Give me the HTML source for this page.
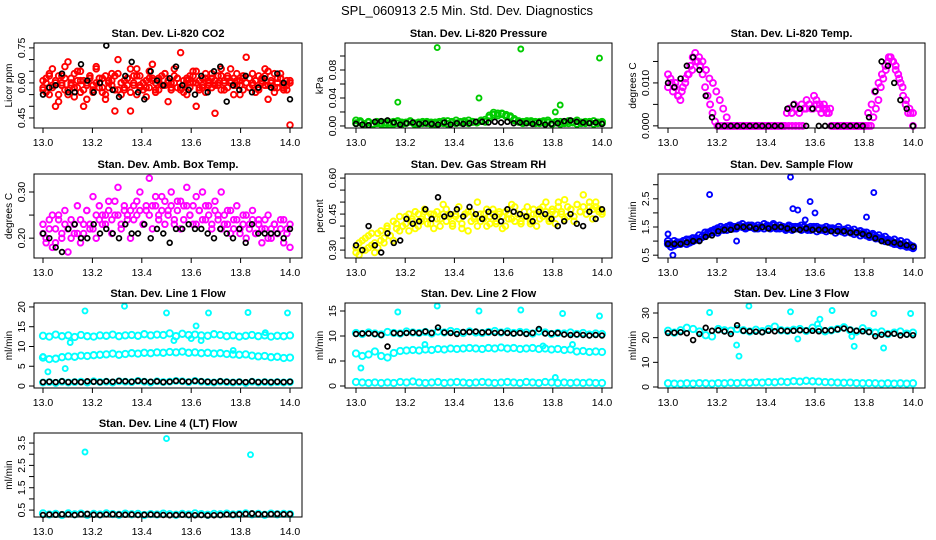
<!DOCTYPE html>
<html><head><meta charset="utf-8">
<style>
html,body{margin:0;padding:0;background:#fff;}
svg{display:block;font-family:"Liberation Sans",Arial,sans-serif;}
.ttl{font-weight:bold;font-size:11px;}
.tk{font-size:10.5px;}
.yl{font-size:10px;}
</style></head>
<body>
<svg id="chart" width="936" height="540" viewBox="0 0 936 540" xmlns="http://www.w3.org/2000/svg">
<text x="467" y="15" text-anchor="middle" font-size="13">SPL_060913  2.5 Min. Std. Dev. Diagnostics</text>
</svg>
<script>
// ---------- data ----------
const xTicks=[13.0,13.2,13.4,13.6,13.8,14.0];
const xTickLabels=["13.0","13.2","13.4","13.6","13.8","14.0"];

const co2Red=[0.58,0.62,0.55,0.66,0.60,0.52,0.63,0.57,0.69,0.59,0.54,0.61,0.65,0.50,0.60,0.63,0.56,0.67,0.58,0.62,0.53,0.60,0.64,0.57,0.70,0.55,0.61,0.59,0.48,0.63,0.66,0.58,0.60,0.54,0.62,0.68,0.57,0.61,0.59,0.64,0.52,0.60,0.63,0.58,0.73,0.56,0.62,0.60,0.65,0.50,0.61,0.58,0.64,0.59,0.62,0.47,0.60,0.66,0.57,0.63,0.61,0.55,0.64,0.59,0.62,0.71,0.58,0.60,0.56,0.63,0.61,0.66,0.53,0.60,0.64,0.58,0.62,0.57,0.59,0.42];
const co2Red2=[0.61,0.56,0.64,0.59,0.50,0.63,0.60,0.67,0.55,0.62,0.58,0.65,0.61,0.57,0.53,0.62,0.59,0.66,0.60,0.56,0.63,0.58,0.61,0.48,0.64,0.60,0.57,0.62,0.66,0.59,0.55,0.63,0.60,0.58,0.65,0.61,0.56,0.62,0.59,0.64,0.60,0.57,0.66,0.62,0.58,0.61,0.55,0.63,0.60,0.65,0.58,0.62,0.56,0.61,0.64,0.59,0.63,0.57,0.60,0.62,0.66,0.59,0.61,0.55,0.63,0.60,0.58,0.64,0.61,0.57,0.62,0.59,0.65,0.60,0.56,0.62,0.64,0.58,0.61,0.60];
const co2Red3=[0.57,0.60,0.63,0.58,0.61,0.55,0.59,0.62,0.57,0.60,0.64,0.58,0.56,0.61,0.59,0.63,0.57,0.60,0.62,0.58,0.55,0.61,0.59,0.63,0.57,0.60,0.58,0.62,0.56,0.60,0.63,0.59,0.57,0.61,0.58,0.62,0.60,0.57,0.63,0.59,0.61,0.58,0.60,0.62,0.57,0.59,0.61,0.58,0.63,0.60,0.57,0.59,0.62,0.60,0.58,0.61,0.59,0.63,0.61,0.58,0.60,0.62,0.59,0.61,0.57,0.60,0.62,0.59,0.61,0.58,0.60,0.63,0.59,0.61,0.58,0.60,0.62,0.59,0.57,0.61];
const co2Black=[0.55,0.58,0.59,0.64,0.56,0.56,0.68,0.61,0.56,0.60,0.76,0.57,0.54,0.63,0.69,0.56,0.53,0.65,0.61,0.59,0.62,0.67,0.59,0.57,0.55,0.63,0.56,0.65,0.67,0.52,0.59,0.57,0.63,0.56,0.58,0.62,0.58,0.64,0.60,0.53];

const presGreen=[0.008,0.005,0.003,0.006,0.002,0.004,0.003,0.005,0.002,0.006,0.004,0.003,0.005,0.007,0.004,0.003,0.006,0.004,0.005,0.003,0.006,0.004,0.007,0.005,0.004,0.006,0.005,0.008,0.006,0.005,0.007,0.009,0.012,0.016,0.018,0.017,0.016,0.014,0.010,0.007,0.006,0.005,0.007,0.004,0.006,0.005,0.008,0.004,0.006,0.003,0.005,0.004,0.006,0.003,0.005,0.004,0.006,0.003,0.005,0.004];
const presGreen2=[0.004,0.007,0.002,0.005,0.003,0.006,0.004,0.002,0.005,0.003,0.007,0.005,0.004,0.006,0.003,0.005,0.004,0.006,0.003,0.005,0.004,0.007,0.003,0.006,0.008,0.005,0.007,0.004,0.006,0.005,0.008,0.006,0.015,0.019,0.015,0.018,0.014,0.012,0.008,0.006,0.004,0.007,0.005,0.006,0.004,0.007,0.005,0.003,0.005,0.006,0.004,0.007,0.005,0.008,0.004,0.006,0.005,0.007,0.004,0.006];
const presOutX=[13.17,13.33,13.50,13.67,13.81,13.83,13.99];
const presOutY=[0.034,0.112,0.040,0.110,0.020,0.030,0.097];
const presBlack=[0.003,0.002,0.001,0.006,0.007,0.008,0.005,0.002,0.004,0.005,0.003,0.004,0.003,0.002,0.005,0.002,0.004,0.003,0.004,0.006,0.006,0.005,0.006,0.005,0.006,0.004,0.005,0.004,0.003,0.005,0.002,0.003,0.004,0.007,0.008,0.006,0.005,0.004,0.005,0.003];

const tempMag=[0.009,0.011,0.008,0.010,0.007,0.006,0.009,0.011,0.012,0.014,0.016,0.017,0.015,0.014,0.012,0.009,0.007,0.005,0.003,0.001,0,0,0,0,0,0,0,0,0,0,0,0,0,0,0,0,0,0,0,0,0,0,0,0,0,0,0,0,0.003,0.004,0.003,0.005,0.004,0.003,0.005,0.004,0.006,0.005,0.004,0.007,0.005,0.004,0.003,0.005,0.004,0.003,0,0,0,0,0,0,0,0,0,0,0,0,0,0,0,0,0,0.002,0.004,0.006,0.009,0.011,0.013,0.015,0.016,0.015,0.014,0.012,0.010,0.007,0.005,0.003,0.003,0];
const tempMag2=[0.012,0.010,0.009,0.007,0.008,0.010,0.012,0.013,0.015,0.016,0.015,0.013,0.011,0.010,0.008,0.006,0.004,0.002,0,0,0,0,0,0,0,0,0,0,0,0,0,0,0,0,0,0,0,0,0,0,0.004,0.005,0.004,0.006,0.005,0.004,0.003,0.004,0,0,0,0,0,0,0,0,0,0,0.003,0.005,0.008,0.010,0.012,0.014,0.016,0.015,0.013,0.011,0.009,0.006,0.004,0.003];
const tempBlack=[0.010,0.009,0.011,0.014,0.016,0.013,0.007,0.002,0,0,0,0,0,0,0,0,0,0,0,0.004,0.005,0.004,0,0.004,0,0,0,0,0,0,0,0,0.002,0.008,0.015,0.014,0.010,0.006,0.004,0];

const ambMag=[0.21,0.19,0.24,0.18,0.22,0.25,0.20,0.23,0.17,0.24,0.21,0.27,0.19,0.23,0.26,0.22,0.29,0.20,0.24,0.25,0.23,0.28,0.21,0.25,0.31,0.22,0.26,0.24,0.20,0.27,0.25,0.30,0.23,0.26,0.33,0.22,0.27,0.25,0.29,0.23,0.26,0.30,0.24,0.28,0.22,0.27,0.31,0.25,0.23,0.29,0.26,0.30,0.24,0.27,0.22,0.28,0.25,0.30,0.23,0.26,0.21,0.24,0.27,0.22,0.25,0.20,0.23,0.26,0.21,0.24,0.19,0.22,0.25,0.20,0.23,0.21,0.24,0.19,0.22,0.18];
const ambMag2=[0.23,0.20,0.22,0.25,0.19,0.24,0.21,0.26,0.22,0.20,0.23,0.21,0.24,0.21,0.26,0.23,0.22,0.25,0.27,0.23,0.25,0.26,0.24,0.28,0.25,0.23,0.27,0.25,0.26,0.24,0.28,0.26,0.23,0.27,0.25,0.27,0.29,0.24,0.26,0.28,0.25,0.27,0.23,0.26,0.28,0.24,0.27,0.25,0.27,0.23,0.26,0.24,0.27,0.25,0.23,0.26,0.24,0.22,0.25,0.23,0.26,0.22,0.24,0.21,0.23,0.25,0.22,0.24,0.21,0.23,0.22,0.24,0.20,0.22,0.23,0.21,0.22,0.24,0.21,0.23];
const ambBlack=[0.21,0.20,0.18,0.17,0.22,0.23,0.20,0.20,0.23,0.21,0.22,0.21,0.20,0.23,0.21,0.21,0.23,0.20,0.22,0.21,0.19,0.22,0.22,0.23,0.22,0.22,0.21,0.20,0.22,0.21,0.20,0.22,0.19,0.23,0.21,0.21,0.21,0.21,0.20,0.22];

const rhYellow=[0.31,0.28,0.34,0.30,0.36,0.32,0.29,0.37,0.34,0.33,0.39,0.36,0.34,0.41,0.38,0.40,0.44,0.38,0.42,0.46,0.40,0.43,0.47,0.41,0.45,0.39,0.46,0.43,0.49,0.42,0.45,0.40,0.44,0.48,0.41,0.45,0.38,0.46,0.43,0.50,0.42,0.45,0.40,0.44,0.47,0.41,0.45,0.39,0.46,0.43,0.49,0.42,0.45,0.41,0.44,0.48,0.42,0.45,0.40,0.47,0.44,0.50,0.43,0.46,0.41,0.48,0.45,0.51,0.44,0.47,0.42,0.49,0.46,0.53,0.45,0.48,0.43,0.50,0.47,0.46];
const rhYellow2=[0.29,0.33,0.30,0.35,0.31,0.37,0.33,0.31,0.38,0.35,0.40,0.36,0.42,0.39,0.44,0.40,0.41,0.45,0.43,0.39,0.45,0.42,0.46,0.44,0.41,0.45,0.43,0.40,0.45,0.47,0.44,0.41,0.45,0.43,0.39,0.45,0.46,0.42,0.44,0.40,0.45,0.43,0.47,0.41,0.45,0.42,0.46,0.44,0.40,0.45,0.43,0.48,0.45,0.42,0.46,0.44,0.41,0.47,0.45,0.43,0.48,0.46,0.42,0.47,0.45,0.50,0.46,0.43,0.48,0.47,0.44,0.49,0.46,0.48,0.45,0.50,0.47,0.48,0.46,0.45];
const rhBlack=[0.32,0.30,0.40,0.32,0.29,0.37,0.33,0.34,0.43,0.41,0.42,0.47,0.43,0.52,0.44,0.45,0.47,0.44,0.48,0.45,0.43,0.46,0.44,0.42,0.47,0.46,0.45,0.44,0.42,0.46,0.45,0.43,0.40,0.42,0.45,0.41,0.40,0.46,0.43,0.47];

const flowBlue=[0.9,0.8,1.0,0.9,0.95,1.0,0.9,1.05,1.0,1.1,1.05,1.15,1.2,1.25,1.3,1.35,1.3,1.4,1.45,1.4,1.5,1.45,1.5,1.55,1.5,1.45,1.5,1.55,1.5,1.45,1.5,1.6,1.5,1.45,1.55,1.5,1.45,1.5,1.4,1.55,1.5,1.45,1.5,1.55,1.5,1.4,1.5,1.45,1.5,1.4,1.45,1.5,1.4,1.45,1.4,1.5,1.35,1.4,1.45,1.35,1.4,1.3,1.35,1.25,1.3,1.2,1.25,1.15,1.2,1.1,1.15,1.05,1.0,1.05,0.95,1.0,0.9,0.95,0.85,0.8];
const flowBlue2=[1.0,0.9,0.85,0.95,0.9,1.0,1.05,0.95,1.1,1.05,1.2,1.15,1.3,1.3,1.35,1.4,1.45,1.5,1.4,1.5,1.55,1.5,1.45,1.55,1.6,1.5,1.55,1.5,1.45,1.55,1.5,1.45,1.55,1.5,1.6,1.45,1.55,1.5,1.45,1.5,1.4,1.5,1.45,1.4,1.5,1.45,1.4,1.5,1.35,1.45,1.4,1.35,1.45,1.4,1.3,1.4,1.35,1.3,1.35,1.3,1.25,1.3,1.2,1.3,1.2,1.15,1.2,1.1,1.1,1.05,1.0,1.0,0.95,0.9,0.9,0.85,0.85,0.8,0.8,0.75];
const flowOutX=[13.00,13.02,13.17,13.28,13.50,13.51,13.53,13.56,13.58,13.60,13.81,13.84];
const flowOutY=[1.25,0.5,2.65,1.0,3.27,2.15,2.1,1.75,2.4,2.0,1.85,2.72];
const flowBlack=[0.9,0.9,0.9,0.95,1.0,1.0,1.15,1.2,1.35,1.4,1.4,1.5,1.5,1.5,1.45,1.5,1.45,1.5,1.5,1.45,1.4,1.4,1.45,1.4,1.4,1.4,1.35,1.35,1.35,1.3,1.3,1.25,1.2,1.1,1.0,0.95,0.95,0.9,0.85,0.8];

const l1Upper=[12.7,12.5,13.0,12.6,12.8,12.4,12.9,12.6,12.5,12.8,12.7,13.0,12.6,12.8,12.9,12.7,13.1,12.8,13.0,12.9,13.3,12.6,13.2,12.9,13.0,12.8,12.7,13.1,12.9,12.6,12.8,12.5,12.7,12.9,12.6,12.8,12.5,12.7,12.6,12.8];
const l1Mid=[7.2,6.8,6.9,7.3,7.5,7.4,7.7,7.6,7.8,7.9,8.0,8.2,7.9,8.1,8.3,8.2,8.4,8.3,8.5,8.4,8.6,8.5,8.7,8.4,8.5,8.3,8.4,8.2,8.3,8.1,8.0,7.9,8.0,7.7,7.5,7.6,7.3,7.4,7.1,7.2];
const l1Low=[0.9,1.0,0.8,1.1,0.9,1.0,1.1,0.9,1.2,1.0,1.1,0.9,1.2,1.1,1.0,1.3,1.1,0.9,1.2,1.0,1.1,1.3,1.2,1.0,1.3,1.1,1.0,0.9,1.1,1.0,0.9,1.0,0.8,1.1,0.9,1.0,0.9,1.0,0.9,1.0];
const l1Black=[1.0,1.1,1.0,1.2,1.0,1.1,1.0,1.2,1.1,1.0,1.2,1.1,1.3,1.2,1.1,1.3,1.2,1.1,1.2,1.0,1.1,1.3,1.2,1.1,1.3,1.2,1.1,1.0,1.2,1.1,1.0,1.1,1.0,1.2,1.0,1.1,1.0,1.1,1.0,1.1];
const l1OutX=[13.00,13.02,13.09,13.11,13.17,13.33,13.50,13.53,13.60,13.62,13.64,13.67,13.77,13.83,13.90,13.99];
const l1OutY=[7.5,3.6,4.4,11.0,19.0,20.2,18.5,11.5,12.0,15.2,11.5,18.5,9.0,18.6,13.5,18.5];

const l2Upper=[10.6,10.4,10.7,10.5,10.3,10.8,10.6,10.5,10.9,10.7,10.6,10.8,10.5,10.9,10.7,11.0,10.8,10.6,10.9,10.7,10.6,10.8,11.0,10.7,10.9,10.6,10.8,10.7,10.5,10.9,10.7,10.4,10.6,10.5,10.7,10.4,10.6,10.3,10.5,10.4];
const l2Mid=[6.5,6.0,6.3,6.9,6.0,5.7,6.6,7.0,7.1,7.2,7.1,7.3,7.2,7.4,7.3,7.5,7.4,7.5,7.6,7.5,7.4,7.6,7.5,7.7,7.5,7.6,7.4,7.5,7.6,7.4,7.5,7.3,7.4,7.2,7.3,6.9,7.0,6.8,6.9,6.8];
const l2Low=[0.8,0.7,0.6,0.7,0.6,0.7,0.6,0.8,0.7,0.9,0.7,0.6,0.7,0.8,0.6,0.7,0.8,0.7,0.6,0.7,0.8,0.7,0.6,0.7,0.8,0.7,0.6,0.8,0.7,0.6,0.8,0.7,0.6,0.7,0.6,0.7,0.6,0.7,0.6,0.6];
const l2Black=[10.4,10.5,10.5,10.4,10.2,7.9,10.6,10.5,10.6,10.7,10.6,10.9,10.6,11.7,10.7,10.6,10.4,10.8,10.8,10.9,10.7,10.8,10.6,10.7,10.6,10.5,10.6,10.4,10.6,11.4,10.5,10.5,10.6,10.3,10.2,10.3,10.2,10.1,10.2,10.1];
const l2OutX=[13.02,13.17,13.28,13.33,13.50,13.67,13.76,13.81,13.84,13.88,13.99];
const l2OutY=[3.6,14.8,8.3,16.0,15.0,15.2,8.0,1.7,14.5,8.3,14.0];

const l3Upper=[22.8,22.0,23.0,24.0,23.5,22.5,21.0,20.5,23.5,23.0,22.8,23.5,23.0,22.5,23.2,22.6,23.5,24.5,23.0,22.8,23.2,23.5,22.7,24.0,23.5,22.6,23.0,23.5,24.2,23.0,22.5,23.8,22.6,22.0,22.5,21.5,22.0,22.5,21.6,22.0];
const l3Low=[1.5,1.4,1.3,1.5,1.4,1.6,1.5,1.4,1.6,1.5,1.7,1.6,1.8,1.7,1.9,1.8,2.0,1.9,2.2,2.0,2.4,2.2,2.5,2.3,2.2,2.0,1.9,1.8,1.7,1.8,1.6,1.5,1.6,1.5,1.4,1.5,1.4,1.5,1.4,1.5];
const l3Black=[21.9,22.0,22.2,21.8,19.0,21.5,24.0,22.8,23.0,22.5,21.5,25.0,22.8,22.6,22.4,22.2,22.8,22.6,22.9,22.7,22.8,23.0,22.9,22.8,22.6,23.0,22.9,23.4,23.7,23.2,22.8,22.6,22.3,20.6,21.2,21.5,21.6,20.9,21.2,21.0];
const l3OutX=[13.17,13.28,13.29,13.33,13.50,13.53,13.61,13.62,13.67,13.75,13.76,13.84,13.88,13.99];
const l3OutY=[30.2,17.0,12.5,32.8,30.5,19.5,25.5,27.5,31.0,20.5,16.5,29.8,15.8,29.8];

const l4Cyan=[0.35,0.30,0.33,0.28,0.35,0.31,0.34,0.29,0.33,0.30,0.35,0.32,0.29,0.34,0.31,0.33,0.28,0.32,0.30,0.34,0.31,0.29,0.33,0.30,0.35,0.32,0.29,0.33,0.31,0.34,0.30,0.32,0.35,0.31,0.33,0.29,0.34,0.31,0.33,0.32];
const l4Black=[0.28,0.30,0.29,0.31,0.30,0.28,0.31,0.33,0.29,0.28,0.30,0.31,0.30,0.29,0.30,0.28,0.29,0.30,0.29,0.28,0.27,0.28,0.29,0.28,0.27,0.28,0.26,0.27,0.28,0.30,0.29,0.31,0.33,0.35,0.32,0.31,0.32,0.33,0.31,0.32];
const l4OutX=[13.17,13.50,13.84];
const l4OutY=[3.1,3.7,2.98];

// ---------- layout ----------
const NS="http://www.w3.org/2000/svg";
const svg=document.getElementById('chart');
const cols=[{l:34,r:302,x0:43,x1:290},{l:345,r:612,x0:356,x1:602},{l:658,r:925,x0:668,x1:913}];
const rows=[{t:43,b:128},{t:174,b:258},{t:303,b:388},{t:433,b:517}];
function mk(tag,attrs,parent){const e=document.createElementNS(NS,tag);for(const k in attrs)e.setAttribute(k,attrs[k]);(parent||svg).appendChild(e);return e;}
function evenX(n){const a=[];for(let i=0;i<n;i++)a.push(13+i/(n-1));return a;}

function panel(id,c,r,title,ylab,ylo,yhi,yticks,ylabels,series){
  const C=cols[c],R=rows[r];
  const g=mk('g',{});
  
  
  const sx=v=>C.x0+(v-13)*(C.x1-C.x0);
  const sy=v=>R.b-(v-ylo)/(yhi-ylo)*(R.b-R.t);
  const tt=mk('text',{x:(C.l+C.r)/2,y:R.t-6,'text-anchor':'middle',class:'ttl'},g);tt.textContent=title;
  
  
  const pg=mk('g',{},g);
  
  
  series.forEach(s=>{
    const xs=s.x||evenX(s.y.length);
    const isBlack=s.color==='#000000';
    const rr=s.r||(isBlack?2.4:2.8);
    const sw=isBlack?1.7:1.9;
    s.y.forEach((v,i)=>{
      const cc=mk('circle',{cx:sx(xs[i]).toFixed(1),cy:sy(v).toFixed(1),r:rr,fill:'none',stroke:s.color,'stroke-width':sw},pg);
      
      
    });
  });
  const bx=mk('rect',{x:C.l,y:R.t,width:C.r-C.l,height:R.b-R.t,fill:'none',stroke:'#000','stroke-width':1},g);
  
  
  xTicks.forEach((v,i)=>{
    mk('line',{x1:sx(v),x2:sx(v),y1:R.b,y2:R.b+5,stroke:'#000'},g);
    const t=mk('text',{x:sx(v),y:R.b+18,'text-anchor':'middle',class:'tk'},g);t.textContent=xTickLabels[i];
    
    
  });
  yticks.forEach((v,i)=>{
    const y=sy(v);
    mk('line',{x1:C.l-5,x2:C.l,y1:y,y2:y,stroke:'#000'},g);
    if(ylabels[i]){
      const t=mk('text',{x:C.l-9,y:y,'text-anchor':'middle',class:'tk',transform:`rotate(-90 ${C.l-9} ${y})`},g);t.textContent=ylabels[i];
      
      
    }
  });
  const yx=C.l-22,yy=(R.t+R.b)/2;
  const yl=mk('text',{x:yx,y:yy,'text-anchor':'middle',class:'yl',transform:`rotate(-90 ${yx} ${yy})`},g);yl.textContent=ylab;
  
  
}

const RED='#ff0000',BLK='#000000',GRN='#00cc00',MAG='#ff00ff',YEL='#ffff00',BLU='#0000ff',CYN='#00ffff';
panel('co2',0,0,'Stan. Dev. Li-820 CO2','Licor ppm',0.407,0.771,[0.45,0.5,0.55,0.6,0.65,0.7,0.75],['0.45','','','0.60','','','0.75'],
  [{y:co2Red,color:RED},{y:co2Red2,color:RED},{y:co2Red3,color:RED},{y:co2Black,color:BLK}]);
panel('pressure',1,0,'Stan. Dev. Li-820 Pressure','kPa',-0.0029,0.1186,[0,0.02,0.04,0.06,0.08,0.10],['0.00','','0.04','','0.08',''],
  [{y:presGreen,color:GRN,r:3},{y:presGreen2,color:GRN,r:3},{x:presOutX,y:presOutY,color:GRN,r:2.5},{y:presBlack,color:BLK}]);
panel('temp',2,0,'Stan. Dev. Li-820 Temp.','degrees C',-0.0005,0.0193,[0,0.005,0.010,0.015],['0.000','','0.010',''],
  [{y:tempMag,color:MAG,r:3},{y:tempMag2,color:MAG,r:3},{y:tempBlack,color:BLK}]);
panel('amb-temp',0,1,'Stan. Dev. Amb. Box Temp.','degrees C',0.157,0.339,[0.20,0.25,0.30],['0.20','','0.30'],
  [{y:ambMag,color:MAG},{y:ambMag2,color:MAG},{y:ambBlack,color:BLK}]);
panel('rh',1,1,'Stan. Dev. Gas Stream RH','percent',0.267,0.617,[0.30,0.35,0.40,0.45,0.50,0.55,0.60],['0.30','','','0.45','','','0.60'],
  [{y:rhYellow,color:YEL},{y:rhYellow2,color:YEL},{y:rhBlack,color:BLK}]);
panel('sample-flow',2,1,'Stan. Dev. Sample Flow','ml/min',0.4,3.38,[0.5,1.0,1.5,2.0,2.5,3.0],['0.5','','1.5','','2.5',''],
  [{y:flowBlue,color:BLU,r:3.2},{y:flowBlue2,color:BLU,r:3.2},{x:flowOutX,y:flowOutY,color:BLU,r:2.5},{y:flowBlack,color:BLK}]);
panel('line1',0,2,'Stan. Dev. Line 1 Flow','ml/min',-0.5,21.0,[0,5,10,15,20],['0','5','10','15','20'],
  [{y:l1Upper,color:CYN,r:3.2},{y:l1Mid,color:CYN,r:3.2},{y:l1Low,color:CYN,r:3},{x:l1OutX,y:l1OutY,color:CYN,r:2.5},{y:l1Black,color:BLK}]);
panel('line2',1,2,'Stan. Dev. Line 2 Flow','ml/min',-0.4,16.6,[0,5,10,15],['0','5','10','15'],
  [{y:l2Upper,color:CYN,r:3.2},{y:l2Mid,color:CYN,r:3.2},{y:l2Low,color:CYN,r:3.2},{x:l2OutX,y:l2OutY,color:CYN,r:2.5},{y:l2Black,color:BLK}]);
panel('line3',2,2,'Stan. Dev. Line 3 Flow','ml/min',-0.4,34.05,[0,10,20,30],['0','10','20','30'],
  [{y:l3Upper,color:CYN,r:3.2},{y:l3Low,color:CYN,r:3.2},{x:l3OutX,y:l3OutY,color:CYN,r:2.5},{y:l3Black,color:BLK}]);
panel('line4',0,3,'Stan. Dev. Line 4 (LT) Flow','ml/min',0.19,3.95,[0.5,1.0,1.5,2.0,2.5,3.0,3.5],['0.5','','1.5','','2.5','','3.5'],
  [{y:l4Cyan,color:CYN,r:3.2},{x:l4OutX,y:l4OutY,color:CYN,r:2.5},{y:l4Black,color:BLK}]);
</script>
</body></html>
